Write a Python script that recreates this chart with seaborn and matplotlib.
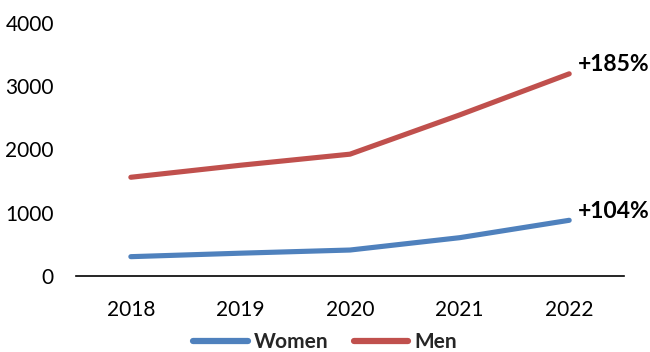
import matplotlib
matplotlib.use("Agg")
import matplotlib.pyplot as plt
import pandas as pd
import seaborn as sns

years = ["2018", "2019", "2020", "2021", "2022"]
women = [305, 360, 410, 605, 880]
men = [1560, 1750, 1925, 2545, 3195]
series_names = ["Women", "Men"]
growth_labels = {"Women": "+104%", "Men": "+185%"}
colors = {"Women": "#4F81BD", "Men": "#C0504D"}
y_ticks = [0, 1000, 2000, 3000, 4000]

df = pd.DataFrame({
    "Year": years * 2,
    "Value": women + men,
    "Series": ["Women"] * len(years) + ["Men"] * len(years),
})

sns.set_style("white")
plt.rcParams["font.family"] = ["Lato", "DejaVu Sans"]

fig = plt.figure(figsize=(6.5, 3.52), dpi=100)
ax = fig.add_axes([0.117, 0.216, 0.843, 0.719])

sns.lineplot(data=df, x="Year", y="Value", hue="Series", hue_order=series_names,
             palette=colors, linewidth=3.7, sort=False, ax=ax, legend=True)
for line in ax.get_lines():
    line.set_solid_capstyle("round")
    line.set_solid_joinstyle("round")

ax.set_xlim(-0.5, len(years) - 0.5)
ax.set_ylim(0, 4000)
ax.set_yticks(y_ticks)
ax.set_xlabel("")
ax.set_ylabel("")
ax.tick_params(axis="both", length=0, labelsize=15, colors="black")
ax.tick_params(axis="x", pad=17)
ax.tick_params(axis="y", pad=16)

for side in ["top", "right", "left"]:
    ax.spines[side].set_visible(False)
ax.spines["bottom"].set_color("black")
ax.spines["bottom"].set_linewidth(1.2)

last = len(years) - 1
for name, vals in (("Women", women), ("Men", men)):
    ax.annotate(growth_labels[name], xy=(last, vals[-1]), xytext=(6.5, 6.5),
                textcoords="offset points", ha="left", va="center",
                fontsize=16.5, fontweight="bold", color="black")

handles, labels = ax.get_legend_handles_labels()
leg = ax.legend(handles, labels, loc="center", ncol=2, frameon=False,
                handlelength=2.6, handletextpad=0.3, columnspacing=1.2,
                prop={"size": 15, "weight": "bold"})
for h in leg.get_lines():
    h.set_linewidth(4.5)
    h.set_solid_capstyle("round")
leg.set_bbox_to_anchor((0.5, 1 - 342 / 352), transform=fig.transFigure)

fig.savefig("out.png", dpi=100, facecolor="white")
